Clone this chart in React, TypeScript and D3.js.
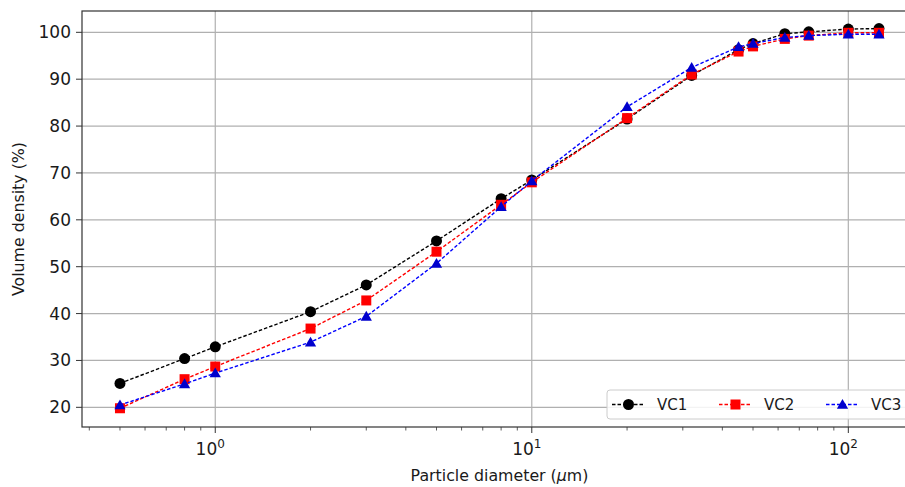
import React from 'react'
import { scaleLog, scaleLinear, line, symbol, symbolTriangle } from 'd3'

// particle diameters (um) and cumulative volume density (%)
const diameters = [0.5, 0.8, 1, 2, 3, 5, 8, 10, 20, 32, 45, 50, 63, 75, 100, 125]
const vc1 = [25.1, 30.4, 32.9, 40.4, 46.1, 55.5, 64.5, 68.5, 81.5, 90.8, 96.3, 97.6, 99.7, 100.1, 100.7, 100.8]
const vc2 = [19.8, 26.0, 28.7, 36.8, 42.8, 53.2, 63.2, 68.0, 81.7, 91.0, 95.9, 97.0, 98.6, 99.3, 99.9, 99.9]
const vc3 = [20.5, 25.0, 27.3, 33.9, 39.4, 50.7, 62.8, 68.3, 84.1, 92.5, 96.9, 97.6, 98.9, 99.3, 99.6, 99.6]
const seriesNames = ['VC1', 'VC2', 'VC3']
const yTicks = [20, 30, 40, 50, 60, 70, 80, 90, 100]
const xMajor = [1, 10, 100]
const xMajorExp = ['0', '1', '2']

const width = 905
const height = 487
const left = 82
const right = 917
const top = 11
const bottom = 427
const font = 'DejaVu Sans, sans-serif'

const Marker = ({ kind, x, y, color }: { kind: string; x: number; y: number; color: string }) => {
    if (kind === 'circle') return <circle cx={x} cy={y} r={5.5} fill={color} />
    if (kind === 'square') return <rect x={x - 5} y={y - 5} width={10} height={10} fill={color} />
    return <path d={symbol(symbolTriangle, 55)()!} transform={`translate(${x},${y + 1})`} fill={color} />
}

const App = () => {
    const xscale = scaleLog().domain([Math.pow(10, -0.421), Math.pow(10, 2.217)]).range([left, right])
    const yscale = scaleLinear().domain([15.8, 104.55]).range([bottom, top])

    const series = [
        { name: seriesNames[0], values: vc1, color: '#000000', mcolor: '#000000', kind: 'circle' },
        { name: seriesNames[1], values: vc2, color: '#ff0000', mcolor: '#ff0000', kind: 'square' },
        { name: seriesNames[2], values: vc3, color: '#0000ff', mcolor: '#0000cd', kind: 'triangle' },
    ]

    const minorTicks: number[] = []
    for (const dec of [0.1, 1, 10, 100]) {
        for (let m = 2; m <= 9; m++) {
            const v = dec * m
            if (v >= xscale.domain()[0] && v <= xscale.domain()[1]) minorTicks.push(v)
        }
    }

    const gridY = yTicks.map(t => (
        <line key={'gy' + t} x1={left} x2={right} y1={yscale(t)} y2={yscale(t)} stroke='#b0b0b0' strokeWidth={1.2} />
    ))
    const gridX = xMajor.map(t => (
        <line key={'gx' + t} x1={xscale(t)} x2={xscale(t)} y1={top} y2={bottom} stroke='#b0b0b0' strokeWidth={1.2} />
    ))

    const lineGen = (vals: number[]) =>
        line<number>().x((d, i) => xscale(diameters[i])).y(d => yscale(d))(vals)!

    const plotted = series.map(s => (
        <g key={s.name}>
            <path d={lineGen(s.values)} fill='none' stroke={s.color} strokeWidth={1.4} strokeDasharray='3.5,2' />
            {s.values.map((v, i) => (
                <Marker key={i} kind={s.kind} x={xscale(diameters[i])} y={yscale(v)} color={s.mcolor} />
            ))}
        </g>
    ))

    const legendX = 607
    const legendY = 390
    const legend = (
        <g>
            <rect x={legendX} y={legendY} width={303} height={29} rx={3} fill='#fff' fillOpacity={0.85} stroke='#cccccc' />
            {series.map((s, i) => {
                const x0 = legendX + 5 + i * 107
                const cy = legendY + 14.5
                return (
                    <g key={s.name}>
                        <line x1={x0} x2={x0 + 33} y1={cy} y2={cy} stroke={s.color} strokeWidth={1.4} strokeDasharray='3.5,2' />
                        <Marker kind={s.kind} x={x0 + 16.5} y={cy} color={s.mcolor} />
                        <text x={x0 + 45} y={cy + 5.5} fontSize={15} fontFamily={font} fill='#1a1a1a'>{s.name}</text>
                    </g>
                )
            })}
        </g>
    )

    return (
        <svg width={width} height={height} viewBox={`0 0 ${width} ${height}`}
            style={{ position: 'absolute', left: 0, top: 0, background: '#fff' }}>
            <defs>
                <clipPath id='plotclip'>
                    <rect x={left} y={top} width={right - left} height={bottom - top} />
                </clipPath>
            </defs>
            {gridY}
            {gridX}
            <g clipPath='url(#plotclip)'>{plotted}</g>
            {legend}
            <rect x={left} y={top} width={right - left} height={bottom - top} fill='none' stroke='#333' strokeWidth={1.2} />
            {yTicks.map(t => (
                <g key={'ty' + t}>
                    <line x1={left - 6} x2={left} y1={yscale(t)} y2={yscale(t)} stroke='#333' />
                    <text x={left - 11} y={yscale(t) + 6} textAnchor='end' fontSize={17} fontFamily={font} fill='#1a1a1a'>{t}</text>
                </g>
            ))}
            {minorTicks.map(t => (
                <line key={'mx' + t} x1={xscale(t)} x2={xscale(t)} y1={bottom} y2={bottom + 3.5} stroke='#333' strokeWidth={0.8} />
            ))}
            {xMajor.map((t, i) => (
                <g key={'tx' + t}>
                    <line x1={xscale(t)} x2={xscale(t)} y1={bottom} y2={bottom + 6} stroke='#333' />
                    <text x={xscale(t) - 5} y={bottom + 28} textAnchor='middle' fontSize={17} fontFamily={font} fill='#1a1a1a'>
                        10<tspan fontSize={12} dy={-7}>{xMajorExp[i]}</tspan>
                    </text>
                </g>
            ))}
            <text x={(left + right) / 2} y={481} textAnchor='middle' fontSize={15.8} fontFamily={font} fill='#1a1a1a'>
                Particle diameter (<tspan fontStyle='italic'>μ</tspan>m)
            </text>
            <text transform={`translate(24,${(top + bottom) / 2}) rotate(-90)`} textAnchor='middle' fontSize={15.8} fontFamily={font} fill='#1a1a1a'>
                Volume density (%)
            </text>
        </svg>
    )
}

export default App
